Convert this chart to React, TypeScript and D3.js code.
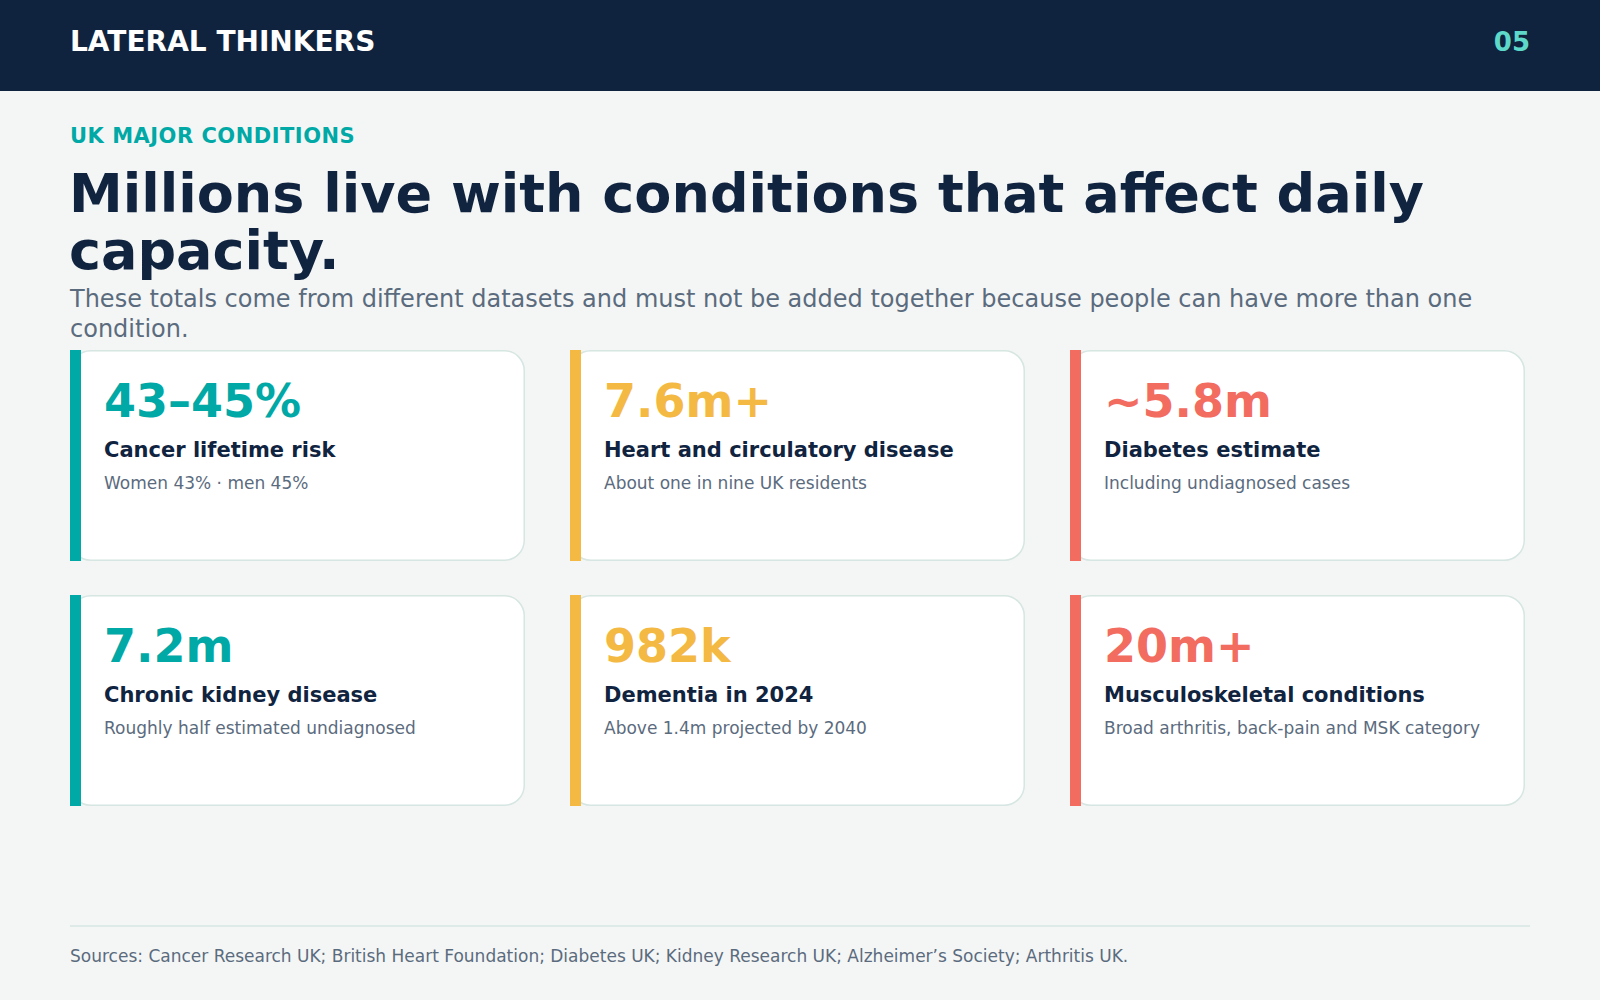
import { useEffect } from 'react'
import * as d3 from 'd3'

// header + headline copy
const brand = 'LATERAL THINKERS'
const pageNo = '05'
const kicker = 'UK MAJOR CONDITIONS'
const titleLines = ['Millions live with conditions that affect daily', 'capacity.']
const subtitleLines = [
    'These totals come from different datasets and must not be added together because people can have more than one',
    'condition.',
]
const sources = 'Sources: Cancer Research UK; British Heart Foundation; Diabetes UK; Kidney Research UK; Alzheimer\u2019s Society; Arthritis UK.'

// card data (row-major, 3 per row)
const statValues = ['43\u201345%', '7.6m+', '~5.8m', '7.2m', '982k', '20m+']
const statLabels = [
    'Cancer lifetime risk',
    'Heart and circulatory disease',
    'Diabetes estimate',
    'Chronic kidney disease',
    'Dementia in 2024',
    'Musculoskeletal conditions',
]
const statNotes = [
    'Women 43% \u00b7 men 45%',
    'About one in nine UK residents',
    'Including undiagnosed cases',
    'Roughly half estimated undiagnosed',
    'Above 1.4m projected by 2040',
    'Broad arthritis, back-pain and MSK category',
]

const W = 1600
const H = 1000
const FONT = '"DejaVu Sans", Verdana, sans-serif'
const navy = '#10233f'
const slate = '#5b6b7e'
const border = '#d6e6e2'

export default function App() {
    useEffect(() => {
        document.body.style.margin = '0'
    }, [])

    const cols = d3.range(3)
    const rows = d3.range(2)
    const x = d3.scaleBand<number>().domain(cols).range([70, 1525]).paddingInner(45 / 500)
    const y = d3.scaleBand<number>().domain(rows).range([350, 805]).paddingInner(35 / 245)
    const accent = d3.scaleOrdinal<number, string>().domain(cols).range(['#00a8a6', '#f4b942', '#f26c5f'])

    const cards = statValues.map((v, i) => ({
        value: v,
        label: statLabels[i],
        note: statNotes[i],
        col: i % 3,
        row: Math.floor(i / 3),
    }))

    return (
        <svg width={W} height={H} style={{ display: 'block' }} fontFamily={FONT}>
            <rect width={W} height={H} fill="#f4f6f5" />

            {/* top bar */}
            <rect width={W} height={91} fill="#0f233e" />
            <text x={70} y={51} fontSize={28} fontWeight="bold" fill="#ffffff">{brand}</text>
            <text x={1530} y={51} fontSize={26} fontWeight="bold" fill="#5dd8c9" textAnchor="end">{pageNo}</text>

            <text x={70} y={142.5} fontSize={21} fontWeight="bold" fill="#00a8a6" letterSpacing={0.5}>{kicker}</text>
            {titleLines.map((t, i) => (
                <text key={t} x={69} y={211.5 + i * 57} fontSize={54} fontWeight="bold" fill={navy}>{t}</text>
            ))}
            {subtitleLines.map((t, i) => (
                <text key={t} x={70} y={307 + i * 30} fontSize={24} fill={slate}>{t}</text>
            ))}

            {cards.map(c => {
                const cx = x(c.col) ?? 0
                const cy = y(c.row) ?? 0
                return (
                    <g key={c.label}>
                        <rect x={cx + 0.75} y={cy + 0.75} width={x.bandwidth() - 1.5} height={y.bandwidth() - 0.5}
                            rx={20} fill="#ffffff" stroke={border} strokeWidth={1.5} />
                        <rect x={cx} y={cy} width={11} height={y.bandwidth() + 1} fill={accent(c.col)} />
                        <text x={cx + 34} y={cy + 67} fontSize={46} fontWeight="bold" fill={accent(c.col)}>{c.value}</text>
                        <text x={cx + 34} y={cy + 106.5} fontSize={21} fontWeight="bold" fill={navy}>{c.label}</text>
                        <text x={cx + 34} y={cy + 139} fontSize={17} fill={slate}>{c.note}</text>
                    </g>
                )
            })}

            <line x1={70} x2={1530} y1={926} y2={926} stroke={border} strokeWidth={1.5} />
            <text x={70} y={962} fontSize={17} fill={slate}>{sources}</text>
        </svg>
    )
}
